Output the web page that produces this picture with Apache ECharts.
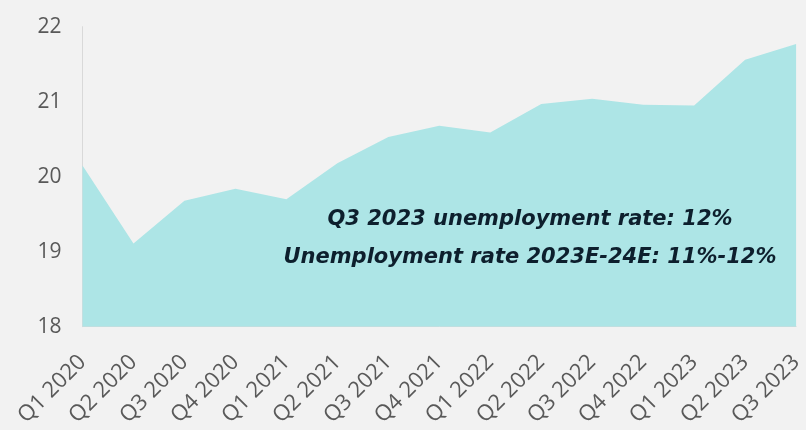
<!DOCTYPE html>
<html>
<head>
<meta charset="utf-8">
<script src="https://cdn.jsdelivr.net/npm/echarts@6/dist/echarts.min.js"></script>
<style>
  html, body { margin: 0; padding: 0; background: #f2f2f2; }
  #chart { width: 806px; height: 430px; }
</style>
</head>
<body>
<div id="chart"></div>
<script>
// Quarterly series, Q1 2020 – Q3 2023
const quarters = [
  'Q1 2020', 'Q2 2020', 'Q3 2020', 'Q4 2020',
  'Q1 2021', 'Q2 2021', 'Q3 2021', 'Q4 2021',
  'Q1 2022', 'Q2 2022', 'Q3 2022', 'Q4 2022',
  'Q1 2023', 'Q2 2023', 'Q3 2023'
];
const values = [
  20.15, 19.11, 19.68, 19.84,
  19.70, 20.18, 20.53, 20.68,
  20.59, 20.97, 21.04, 20.96,
  20.95, 21.56, 21.77
];
const yMin = 18;
const yMax = 22;
const yStep = 1;
const noteLines = [
  'Q3 2023 unemployment rate: 12%',
  'Unemployment rate 2023E-24E: 11%-12%'
];

const chart = echarts.init(document.getElementById('chart'), null, { renderer: 'canvas' });

const noteFont = 'italic bold 21px "DejaVu Sans", sans-serif';

chart.setOption({
  backgroundColor: '#f2f2f2',
  animation: false,
  grid: { left: 82.5, right: 8, top: 26.7, bottom: 103.3, containLabel: false },
  xAxis: {
    type: 'category',
    data: quarters,
    boundaryGap: false,
    axisLine: { show: true, lineStyle: { color: '#d9d9d9', width: 1 } },
    axisTick: { show: false },
    axisLabel: {
      rotate: 45,
      interval: 0,
      margin: 32,
      color: '#595959',
      fontFamily: '"Open Sans", sans-serif',
      fontSize: 22
    },
    splitLine: { show: false }
  },
  yAxis: {
    type: 'value',
    min: yMin,
    max: yMax,
    interval: yStep,
    axisLine: { show: true, lineStyle: { color: '#d9d9d9', width: 1 } },
    axisTick: { show: false },
    axisLabel: {
      margin: 21,
      color: '#595959',
      fontFamily: '"Open Sans", sans-serif',
      fontSize: 21
    },
    splitLine: { show: false }
  },
  series: [{
    type: 'line',
    data: values,
    showSymbol: false,
    symbol: 'none',
    lineStyle: { width: 0 },
    areaStyle: { color: '#ade5e6', opacity: 1 },
    z: 1
  }],
  graphic: [
    {
      type: 'text',
      x: 530,
      y: 220,
      z: 10,
      style: {
        text: noteLines[0],
        fill: '#0d1f2d',
        font: noteFont,
        align: 'center',
        verticalAlign: 'middle'
      }
    },
    {
      type: 'text',
      x: 530,
      y: 258,
      z: 10,
      style: {
        text: noteLines[1],
        fill: '#0d1f2d',
        font: noteFont,
        align: 'center',
        verticalAlign: 'middle'
      }
    }
  ]
});
</script>
</body>
</html>
